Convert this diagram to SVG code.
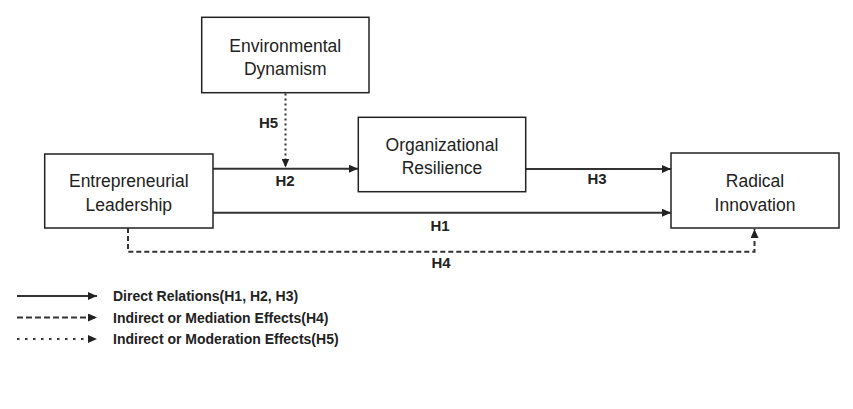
<svg xmlns="http://www.w3.org/2000/svg" width="853" height="409" viewBox="0 0 853 409">
<style>
.box{fill:#fff;stroke:#222;stroke-width:1.5}
.nt{font-family:"Liberation Sans",Arial,sans-serif;font-size:17.5px;fill:#222;text-anchor:middle}
.hl{font-family:"Liberation Sans",Arial,sans-serif;font-size:15px;font-weight:bold;fill:#222;text-anchor:middle}
.lg{font-family:"Liberation Sans",Arial,sans-serif;font-size:14px;font-weight:bold;fill:#222}
.ln{fill:none;stroke:#333;stroke-width:2}
.dash{stroke-dasharray:5,3}
.dot{stroke-dasharray:2,3}
</style>
<defs>
<marker id="ah" markerUnits="userSpaceOnUse" markerWidth="9" markerHeight="8" refX="9" refY="4" orient="auto">
<path d="M0,0 L9,4 L0,8 z" fill="#222"/>
</marker>
</defs>
<rect width="853" height="409" fill="#fff"/>
<g id="connectors">
<line class="ln" x1="213" y1="168.7" x2="358" y2="168.7" marker-end="url(#ah)"/>
<line class="ln dot" x1="285.5" y1="93.5" x2="285.5" y2="167.5" marker-end="url(#ah)"/>
<line class="ln" x1="526" y1="169" x2="671" y2="169" marker-end="url(#ah)"/>
<line class="ln" x1="213" y1="212.7" x2="671" y2="212.7" marker-end="url(#ah)"/>
<path class="ln dash" d="M128,228 V251.7 H754.5 V229" marker-end="url(#ah)"/>
<text class="hl" x="268.5" y="128">H5</text>
<text class="hl" x="285" y="186">H2</text>
<text class="hl" x="597" y="184">H3</text>
<text class="hl" x="440" y="231">H1</text>
<text class="hl" x="441" y="268">H4</text>
</g>
<g id="env">
<rect class="box" x="201.7" y="17.3" width="167.3" height="75.4"/>
<text class="nt" x="285.3" y="51.7">Environmental</text>
<text class="nt" x="285.3" y="75">Dynamism</text>
</g>
<g id="el">
<rect class="box" x="44.7" y="154" width="168.3" height="74"/>
<text class="nt" x="128.8" y="187">Entrepreneurial</text>
<text class="nt" x="128.8" y="210.5">Leadership</text>
</g>
<g id="or">
<rect class="box" x="358.3" y="117.3" width="167.4" height="74.4"/>
<text class="nt" x="442" y="150.7">Organizational</text>
<text class="nt" x="442" y="174">Resilience</text>
</g>
<g id="ri">
<rect class="box" x="671" y="153" width="168" height="75"/>
<text class="nt" x="755" y="187">Radical</text>
<text class="nt" x="755" y="210.5">Innovation</text>
</g>
<g id="legend">
<line class="ln" x1="17" y1="296" x2="97" y2="296" stroke-width="1.5" marker-end="url(#ah)"/>
<line class="ln" x1="17" y1="317.5" x2="97" y2="317.5" stroke-width="1.5" stroke-dasharray="6,3" marker-end="url(#ah)"/>
<line class="ln" x1="17" y1="339" x2="97" y2="339" stroke-width="1.5" stroke-dasharray="2.5,5.5" marker-end="url(#ah)"/>
<text class="lg" x="113" y="301">Direct Relations(H1, H2, H3)</text>
<text class="lg" x="113" y="322.5">Indirect or Mediation Effects(H4)</text>
<text class="lg" x="113" y="344">Indirect or Moderation Effects(H5)</text>
</g>
</svg>
